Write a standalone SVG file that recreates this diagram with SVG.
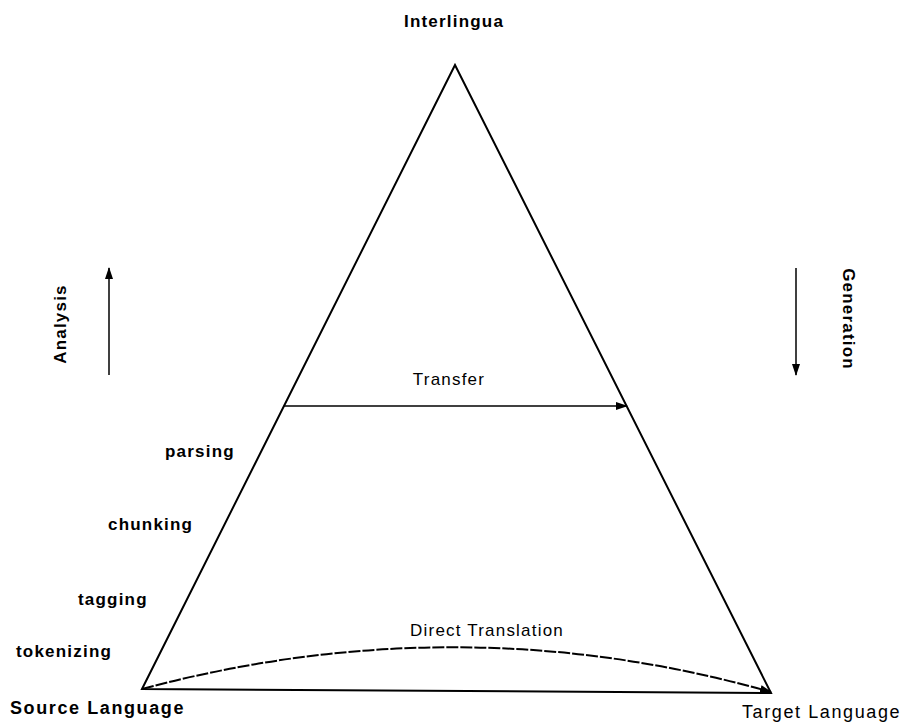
<svg xmlns="http://www.w3.org/2000/svg" width="904" height="726" viewBox="0 0 904 726">
<style>
text{font-family:"Liberation Sans","DejaVu Sans",sans-serif;font-size:17px;letter-spacing:1.2px;fill:#000}
.b{font-weight:bold}
.big{font-size:18px;letter-spacing:1.6px}
.ln{stroke:#000;stroke-width:2;fill:none}
.th{stroke:#000;stroke-width:1.5;fill:none}
</style>
<defs>
<marker id="ah" markerWidth="12" markerHeight="8" refX="11" refY="4" orient="auto" markerUnits="userSpaceOnUse">
<path d="M0,0 L12,4 L0,8 Z" fill="#000"/>
</marker>
</defs>
<rect width="904" height="726" fill="#fff"/>
<g id="triangle">
<path class="ln" d="M142,689 L455,65 L771,693 Z"/>
</g>
<g id="connectors">
<path class="th" d="M284,406 L627,406" marker-end="url(#ah)"/>
<path class="ln" d="M142,689 Q460,604 771,692" stroke-dasharray="12,2" marker-end="url(#ah)"/>
<path class="th" d="M109,375 L109,268" marker-end="url(#ah)"/>
<path class="th" d="M796,268 L796,375" marker-end="url(#ah)"/>
</g>
<g id="labels">
<text class="b" x="454" y="27" text-anchor="middle">Interlingua</text>
<text x="449" y="385" text-anchor="middle">Transfer</text>
<text x="487" y="636" text-anchor="middle">Direct Translation</text>
<text class="b" x="165" y="457">parsing</text>
<text class="b" x="108" y="530">chunking</text>
<text class="b" x="78" y="605">tagging</text>
<text class="b" x="16" y="657">tokenizing</text>
<text class="b big" x="10" y="714">Source Language</text>
<text class="big" x="742" y="718">Target Language</text>
<text class="b" transform="translate(66,324) rotate(-90)" text-anchor="middle">Analysis</text>
<text class="b" transform="translate(843,319) rotate(90)" text-anchor="middle">Generation</text>
</g>
</svg>
